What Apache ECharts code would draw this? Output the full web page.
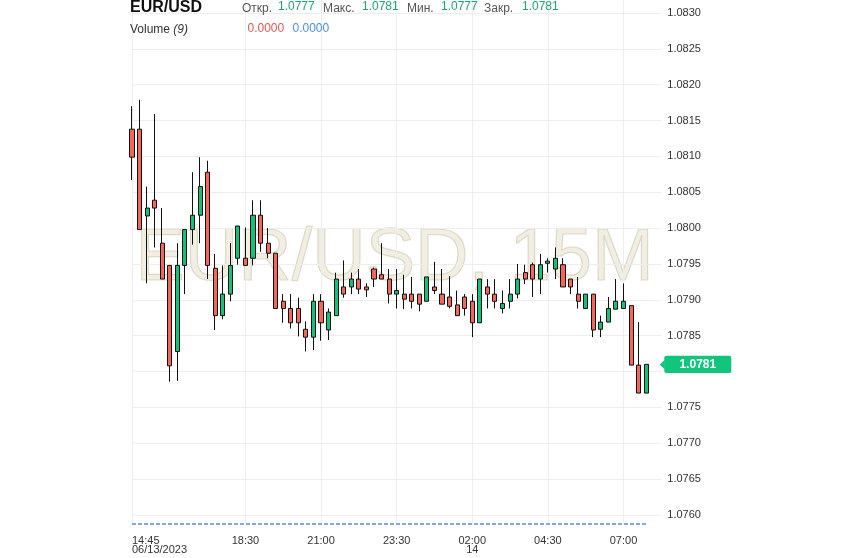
<!DOCTYPE html>
<html>
<head>
<meta charset="utf-8">
<script src="https://cdn.jsdelivr.net/npm/echarts@6/dist/echarts.min.js"></script>
<style>
html,body{margin:0;padding:0;background:#fff;}
#chart{width:843px;height:558px;}
</style>
</head>
<body>
<div id="chart"></div>
<script>
// ---- data ----
const categories = [
  '14:45','15:00','15:15','15:30','15:45','16:00','16:15','16:30','16:45','17:00',
  '17:15','17:30','17:45','18:00','18:15','18:30','18:45','19:00','19:15','19:30',
  '19:45','20:00','20:15','20:30','20:45','21:00','21:15','21:30','21:45','22:00',
  '22:15','22:30','22:45','23:00','23:15','23:30','23:45','00:00','00:15','00:30',
  '00:45','01:00','01:15','01:30','01:45','02:00','02:15','02:30','02:45','03:00',
  '03:15','03:30','03:45','04:00','04:15','04:30','04:45','05:00','05:15','05:30',
  '05:45','06:00','06:15','06:30','06:45','07:00','07:15','07:30','07:45','08:00','08:15'
];
// [open, close, low, high]
const ohlc = [
  [1.08138,1.08099,1.08067,1.08170],
  [1.08138,1.07998,1.07998,1.08179],
  [1.08017,1.08028,1.07923,1.08058],
  [1.08039,1.08028,1.07973,1.08159],
  [1.07979,1.07929,1.07929,1.08028],
  [1.07948,1.07808,1.07786,1.07948],
  [1.07828,1.07948,1.07787,1.07979],
  [1.07948,1.07998,1.07908,1.07998],
  [1.07998,1.08018,1.07977,1.08078],
  [1.08018,1.08058,1.07979,1.08099],
  [1.08078,1.07948,1.07929,1.08094],
  [1.07944,1.07878,1.07858,1.07964],
  [1.07878,1.07908,1.07873,1.07948],
  [1.07908,1.07948,1.07898,1.07979],
  [1.07958,1.08003,1.07949,1.08003],
  [1.07958,1.07948,1.07948,1.08001],
  [1.07958,1.08018,1.07948,1.08039],
  [1.08018,1.07979,1.07967,1.08039],
  [1.07979,1.07965,1.07958,1.08000],
  [1.07965,1.07888,1.07888,1.07965],
  [1.07898,1.07888,1.07868,1.07908],
  [1.07888,1.07868,1.07860,1.07908],
  [1.07888,1.07868,1.07849,1.07903],
  [1.07859,1.07848,1.07828,1.07870],
  [1.07848,1.07898,1.07830,1.07908],
  [1.07898,1.07868,1.07843,1.07908],
  [1.07858,1.07883,1.07844,1.07888],
  [1.07878,1.07929,1.07878,1.07938],
  [1.07918,1.07908,1.07903,1.07955],
  [1.07918,1.07929,1.07908,1.07938],
  [1.07929,1.07915,1.07908,1.07943],
  [1.07918,1.07914,1.07904,1.07923],
  [1.07943,1.07929,1.07918,1.07945],
  [1.07935,1.07929,1.07929,1.07979],
  [1.07929,1.07908,1.07895,1.07943],
  [1.07908,1.07913,1.07888,1.07943],
  [1.07908,1.07901,1.07887,1.07935],
  [1.07908,1.07898,1.07888,1.07932],
  [1.07908,1.07894,1.07884,1.07908],
  [1.07898,1.07932,1.07898,1.07932],
  [1.07918,1.07913,1.07908,1.07953],
  [1.07908,1.07894,1.07894,1.07943],
  [1.07904,1.07891,1.07888,1.07933],
  [1.07893,1.07878,1.07878,1.07913],
  [1.07904,1.07888,1.07878,1.07908],
  [1.07898,1.07868,1.07848,1.07908],
  [1.07868,1.07929,1.07868,1.07929],
  [1.07918,1.07908,1.07888,1.07929],
  [1.07908,1.07898,1.07888,1.07929],
  [1.07888,1.07895,1.07881,1.07913],
  [1.07898,1.07908,1.07888,1.07929],
  [1.07908,1.07929,1.07902,1.07950],
  [1.07938,1.07929,1.07922,1.07949],
  [1.07949,1.07929,1.07904,1.07952],
  [1.07929,1.07949,1.07908,1.07964],
  [1.07951,1.07954,1.07938,1.07958],
  [1.07943,1.07958,1.07929,1.07973],
  [1.07949,1.07918,1.07918,1.07958],
  [1.07929,1.07918,1.07908,1.07929],
  [1.07908,1.07898,1.07888,1.07932],
  [1.07888,1.07908,1.07888,1.07908],
  [1.07908,1.07858,1.07848,1.07908],
  [1.07859,1.07869,1.07848,1.07878],
  [1.07869,1.07888,1.07869,1.07904],
  [1.07887,1.07898,1.07887,1.07929],
  [1.07888,1.07898,1.07888,1.07923],
  [1.07892,1.07809,1.07809,1.07892],
  [1.07809,1.07770,1.07770,1.07869],
  [1.07770,1.07810,1.07770,1.07810]
];
const volume = [
  0,0,0,0,0,0,0,0,0,0,0,0,0,0,0,0,0,0,0,0,0,0,0,0,0,0,0,0,0,0,0,0,0,0,0,
  0,0,0,0,0,0,0,0,0,0,0,0,0,0,0,0,0,0,0,0,0,0,0,0,0,0,0,0,0,0,0,0,0,0
];
const tickTimes = ['14:45','18:30','21:00','23:30','02:00','04:30','07:00'];
const tickSubLabels = {'14:45':'06/13/2023','02:00':'14'};
const yTicks = {min:1.0760, max:1.0830, step:0.0005};
const header = {symbol:'EUR/USD', open:1.0777, high:1.0781, low:1.0777, close:1.0781, volPeriod:9, vol1:0, vol2:0};

// ---- chart ----
const FONT = '"Liberation Sans", Arial, sans-serif';
const chart = echarts.init(document.getElementById('chart'), null, {renderer:'canvas'});
const GL = 132, GW = 529.3;
const isTick = (i, v) => tickTimes.indexOf(categories[i]) >= 0;
const lastClose = ohlc[ohlc.length-1][1];

chart.setOption({
  animation:false,
  backgroundColor:'#fff',
  textStyle:{fontFamily:FONT},
  grid:[
    {left:GL, top:13, width:GW, height:502},
    {left:GL, top:0, width:GW, height:524}
  ],
  xAxis:[
    {type:'category', gridIndex:0, data:categories, boundaryGap:false,
     axisLine:{show:false}, axisTick:{show:false}, axisLabel:{show:false}, splitLine:{show:false}},
    {type:'category', gridIndex:1, data:categories, boundaryGap:false,
     axisLine:{show:false}, axisTick:{show:false},
     axisLabel:{interval:isTick, color:'#333', fontSize:11, lineHeight:9.5, margin:12,
       alignMinLabel:'left', fontFamily:FONT,
       formatter:(v)=> tickSubLabels[v] ? v + '\n' + tickSubLabels[v] : v},
     splitLine:{show:true, interval:isTick, lineStyle:{color:'#ededed', width:1}}}
  ],
  yAxis:[
    {type:'value', gridIndex:0, position:'right', min:yTicks.min, max:yTicks.max, interval:yTicks.step,
     axisLine:{show:false}, axisTick:{show:false},
     axisLabel:{color:'#333', fontSize:11, margin:6, fontFamily:FONT,
       formatter:(v)=> Math.abs(v - lastClose) < 0.00025 ? '' : v.toFixed(4)},
     splitLine:{lineStyle:{color:'#ededed', width:1}}},
    {type:'value', gridIndex:1, min:0, max:1, show:false}
  ],
  series:[
    {type:'candlestick', name:'EUR/USD', xAxisIndex:0, yAxisIndex:0, data:ohlc, barWidth:4.6, z:3,
     itemStyle:{color:'#12c27a', color0:'#f5665a', borderColor:'#111', borderColor0:'#111', borderWidth:1}},
    {type:'line', name:'Volume', xAxisIndex:1, yAxisIndex:1, data:volume, symbol:'none', z:2,
     lineStyle:{color:'#86a6e4', width:2, type:[4,2]}}
  ]
});

const py = chart.convertToPixel({yAxisIndex:0}, lastClose);
const gridRight = GL + GW;
const bx = gridRight + 2;

chart.setOption({
  graphic:[
    {type:'text', id:'wm', x:394.5, y:259.5, z:-1, silent:true,
     style:{text:'EUR/USD, 15M', font:'normal 74px ' + FONT, textAlign:'center', textVerticalAlign:'middle',
            fill:'rgba(210,198,165,0.30)', stroke:'rgba(180,170,135,0.40)', lineWidth:1.2}},
    {type:'text', id:'sym', x:130, y:7.8, style:{text:header.symbol, font:'bold 16px ' + FONT, fill:'#111', textVerticalAlign:'middle'}},
    {type:'text', id:'l1', x:242, y:8.5, style:{text:'Откр.', font:'12px ' + FONT, fill:'#555', textVerticalAlign:'middle'}},
    {type:'text', id:'v1', x:278, y:6.5, style:{text:header.open.toFixed(4), font:'12px ' + FONT, fill:'#1ba86b', textVerticalAlign:'middle'}},
    {type:'text', id:'l2', x:323, y:8.5, style:{text:'Макс.', font:'12px ' + FONT, fill:'#555', textVerticalAlign:'middle'}},
    {type:'text', id:'v2', x:362, y:6.5, style:{text:header.high.toFixed(4), font:'12px ' + FONT, fill:'#1ba86b', textVerticalAlign:'middle'}},
    {type:'text', id:'l3', x:407, y:8.5, style:{text:'Мин.', font:'12px ' + FONT, fill:'#555', textVerticalAlign:'middle'}},
    {type:'text', id:'v3', x:441, y:6.5, style:{text:header.low.toFixed(4), font:'12px ' + FONT, fill:'#1ba86b', textVerticalAlign:'middle'}},
    {type:'text', id:'l4', x:484, y:8.5, style:{text:'Закр.', font:'12px ' + FONT, fill:'#555', textVerticalAlign:'middle'}},
    {type:'text', id:'v4', x:522, y:6.5, style:{text:header.close.toFixed(4), font:'12px ' + FONT, fill:'#1ba86b', textVerticalAlign:'middle'}},
    {type:'text', id:'vol', x:130, y:29.5, style:{text:'{a|Volume }{b|(' + header.volPeriod + ')}', textVerticalAlign:'middle',
      rich:{a:{fontSize:12, fontFamily:FONT, fill:'#333', color:'#333'}, b:{fontSize:12, fontFamily:FONT, fontStyle:'italic', fill:'#333', color:'#333'}}}},
    {type:'text', id:'vv1', x:247.5, y:28.5, style:{text:header.vol1.toFixed(4), font:'12px ' + FONT, fill:'#e2584c', textVerticalAlign:'middle'}},
    {type:'text', id:'vv2', x:292.5, y:28.5, style:{text:header.vol2.toFixed(4), font:'12px ' + FONT, fill:'#4a8ff0', textVerticalAlign:'middle'}},
    {type:'polygon', id:'arrow', z:10, shape:{points:[[bx-3.5, py],[bx+1.5, py-5],[bx+1.5, py+5]]}, style:{fill:'#12c47c'}},
    {type:'rect', id:'box', z:10, shape:{x:bx+1, y:py-8.7, width:67, height:17.4, r:2}, style:{fill:'#12c47c'}},
    {type:'text', id:'boxt', z:11, x:bx+34.5, y:py, style:{text:lastClose.toFixed(4), font:'bold 12px ' + FONT, fill:'#fff', textAlign:'center', textVerticalAlign:'middle'}}
  ]
});
</script>
</body>
</html>
